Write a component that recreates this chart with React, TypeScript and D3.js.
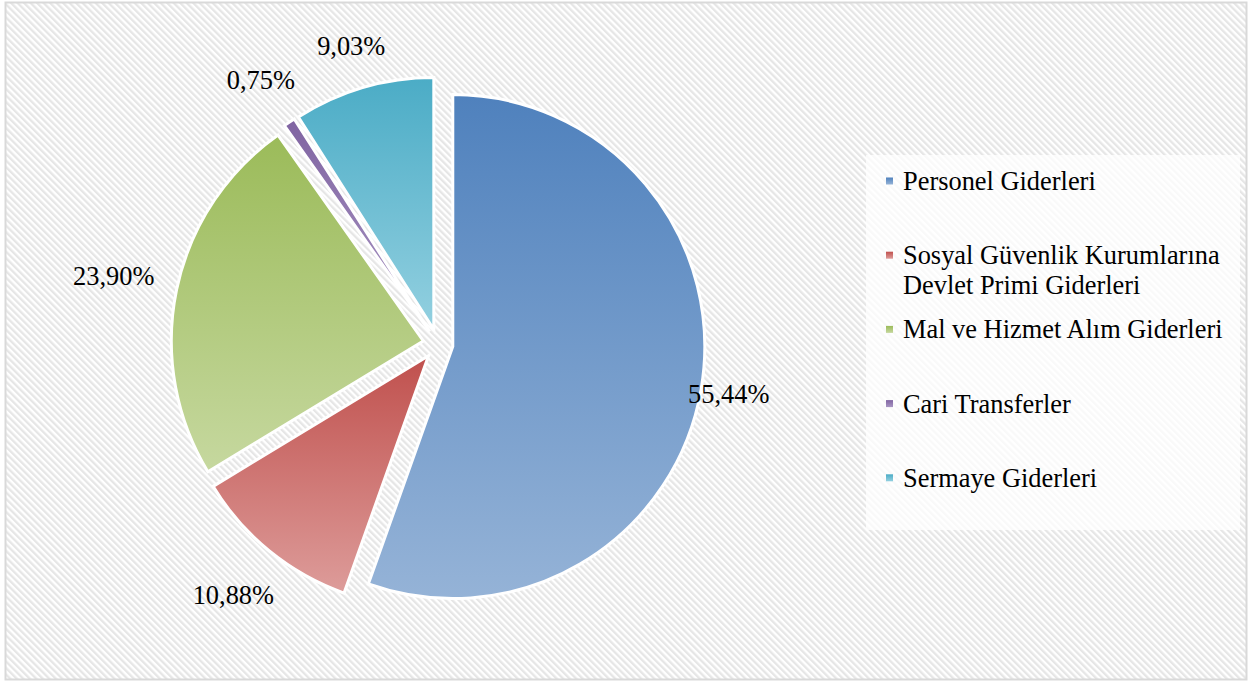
import React from "react";
import * as d3 from "d3";

const categories = [
  "Personel Giderleri",
  "Sosyal Güvenlik Kurumlarına Devlet Primi Giderleri",
  "Mal ve Hizmet Alım Giderleri",
  "Cari Transferler",
  "Sermaye Giderleri",
];
const values = [55.44, 10.88, 23.9, 0.75, 9.03];
const labels = ["55,44%", "10,88%", "23,90%", "0,75%", "9,03%"];
const topColors = ["#4f81bd", "#c0504d", "#9bbb59", "#8064a2", "#4bacc6"];
const bottomColors = ["#95b3d7", "#dd9c9a", "#c6d89f", "#a996c3", "#93d0e0"];

const W = 1250;
const H = 683;
const FONT = "Liberation Serif, Times New Roman, serif";
const FS = 26.4;

function measure(text: string): number {
  const c = document.createElement("canvas").getContext("2d");
  if (!c) return text.length * FS * 0.45;
  c.font = `${FS}px "Liberation Serif", serif`;
  return c.measureText(text).width;
}

function wrap(text: string, maxW: number): string[] {
  const words = text.split(" ");
  const lines: string[] = [];
  let cur = "";
  for (const w of words) {
    const t = cur ? cur + " " + w : w;
    if (cur && measure(t) > maxW) {
      lines.push(cur);
      cur = w;
    } else cur = t;
  }
  if (cur) lines.push(cur);
  return lines;
}

export default function App() {
  const cx = 438;
  const cy = 344;
  const r = 252;
  const explode = 15;

  const pie = d3.pie<number>().sort(null).value((d) => d);
  const arcs = pie(values);
  const arcGen = d3.arc<d3.PieArcDatum<number>>().innerRadius(0).outerRadius(r);

  const maxIdx = values.indexOf(Math.max(...values));

  const legendX = 866;
  const legendY = 155;
  const legendW = 374;
  const legendH = 375;
  const legendFirst = 181;
  const legendPitch = 74.2;
  const lineH = 30;

  return (
    <svg
      width={W}
      height={H}
      style={{ position: "absolute", left: 0, top: 0, fontFamily: FONT }}
    >
      <defs>
        <pattern
          id="stripes"
          width={4.6}
          height={10}
          patternUnits="userSpaceOnUse"
          patternTransform="rotate(-45)"
        >
          <rect width={4.6} height={10} fill="#ffffff" />
          <rect width={2.3} height={10} fill="#e6e6e6" />
        </pattern>
        {topColors.map((c, i) => (
          <linearGradient key={i} id={`g${i}`} x1="0" y1="0" x2="0" y2="1">
            <stop offset="0" stopColor={c} />
            <stop offset="1" stopColor={bottomColors[i]} />
          </linearGradient>
        ))}
      </defs>
      <rect x={0} y={0} width={W} height={H} fill="#ffffff" />
      <rect x={5.5} y={2.5} width={1241} height={677} fill="url(#stripes)" stroke="#d9d9d9" strokeWidth={2} />

      <g>
        {arcs.map((a, i) => {
          const mid = (a.startAngle + a.endAngle) / 2;
          const ux = Math.sin(mid);
          const uy = -Math.cos(mid);
          return (
            <path
              key={i}
              d={arcGen(a) || ""}
              transform={`translate(${cx + ux * explode},${cy + uy * explode})`}
              fill={`url(#g${i})`}
              stroke="#ffffff"
              strokeWidth={3}
              strokeLinejoin="miter"
            />
          );
        })}
      </g>

      <g style={{ fontSize: FS, fontFamily: FONT }} fill="#000">
        {arcs.map((a, i) => {
          const mid = (a.startAngle + a.endAngle) / 2;
          const ux = Math.sin(mid);
          const uy = -Math.cos(mid);
          const w = measure(labels[i]);
          const h = 24;
          const ext = Math.abs(ux) * (w / 2) + Math.abs(uy) * (h / 2);
          const dist = i === maxIdx ? r + explode + 28 : r + explode + 22 + ext;
          return (
            <text
              key={i}
              x={cx + ux * dist}
              y={cy + uy * dist}
              textAnchor="middle"
              dominantBaseline="central"
            >
              {labels[i]}
            </text>
          );
        })}
      </g>

      <rect x={legendX} y={legendY} width={legendW} height={legendH} fill="#ffffff" fillOpacity={0.75} />
      <g style={{ fontSize: FS, fontFamily: FONT }}>
        {categories.map((c, i) => {
          const y = legendFirst + i * legendPitch;
          const lines = wrap(c, 340);
          return (
            <g key={i}>
              <rect x={886} y={y - 3.5} width={7} height={7} fill={`url(#g${i})`} />
              <text x={903} y={y} dominantBaseline="central" fill="#000">
                {lines.map((l, j) => (
                  <tspan key={j} x={903} dy={j === 0 ? 0 : lineH}>
                    {l}
                  </tspan>
                ))}
              </text>
            </g>
          );
        })}
      </g>
    </svg>
  );
}
